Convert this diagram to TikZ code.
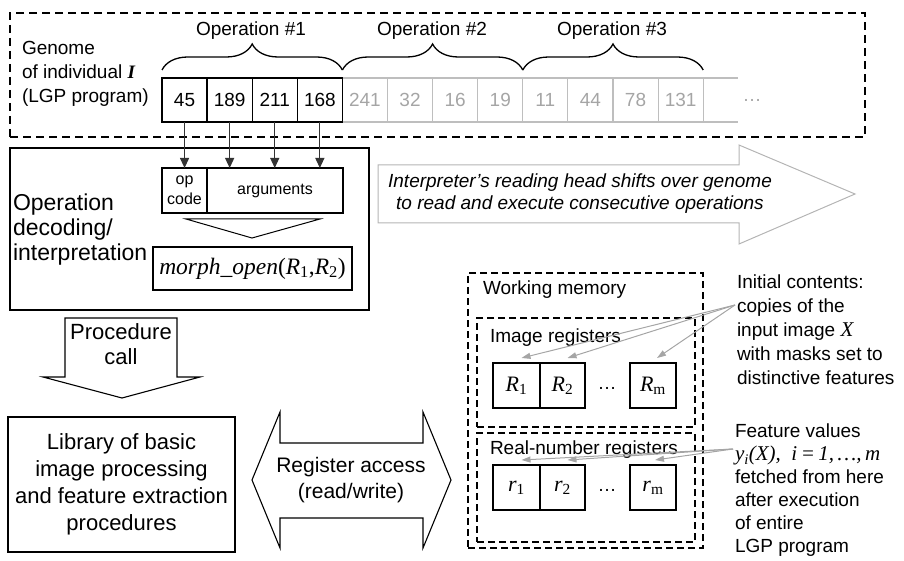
\documentclass[tikz,border=0pt]{standalone}
\usepackage{fontspec}
\setmainfont{Liberation Sans}
\newfontfamily\seriffont{Liberation Serif}
\usetikzlibrary{decorations.pathreplacing,arrows.meta}
\definecolor{cellgray}{RGB}{190,190,190}
\definecolor{textgray}{RGB}{165,165,165}
\definecolor{arrgray}{RGB}{180,180,180}
\definecolor{ptrgray}{RGB}{165,165,165}
\begin{document}
\begin{tikzpicture}[x=1pt,y=-1pt,
  font=\fontsize{19}{24}\selectfont,
  every node/.style={inner sep=0pt, outer sep=0pt},
  blk/.style={draw, line width=1.3pt},
  cellb/.style={draw, line width=1.3pt, minimum width=45.1pt, minimum height=44pt, anchor=north west},
  cellg/.style={draw=cellgray, line width=1.1pt, text=textgray, minimum width=45.1pt, minimum height=44pt, anchor=north west},
  dashbox/.style={draw, line width=1.3pt, dash pattern=on 8pt off 5pt},
  dashbox2/.style={draw, line width=1.3pt, dash pattern=on 7pt off 4pt},
  feed/.style={draw=black!80, line width=1.2pt, -{Triangle[length=10pt,width=9pt]}},
  gptr/.style={draw=ptrgray, line width=1pt, -{Triangle[length=9pt,width=6pt]}},
  bigarrow/.style={draw=arrgray, line width=1pt},
  openarrow/.style={draw, line width=1.1pt, line join=miter},
  brc/.style={draw, line width=1.3pt, decorate, decoration={brace, amplitude=26pt}},
  serifbig/.style={font=\seriffont\fontsize{22}{24}\selectfont},
  ]
\useasboundingbox (0,0) rectangle (904,561);

% ---------- genome ----------
\node[dashbox, anchor=north west, minimum width=855pt, minimum height=124pt] (genome) at (10,13) {};
\node[anchor=west, align=left] (gtxt) at (22,74) {Genome\\of individual {\seriffont\bfseries\itshape I}\\(LGP program)};

\foreach \v [count=\i from 4] in {241,32,16,19,11,44,78,131}
  \node[cellg] (c\i) at ({162+45.1*\i},78) {\v};
\foreach \v [count=\i from 0] in {45,189,211,168}
  \node[cellb] (c\i) at ({162+45.1*\i},78) {\v};
\coordinate (ext1) at ([xshift=35pt]c11.north east);
\coordinate (ext2) at ([xshift=35pt]c11.south east);
\draw[cellgray, line width=1.1pt] (c11.north east) -- (ext1);
\draw[cellgray, line width=1.1pt] (c11.south east) -- (ext2);
\node[text=textgray] (dots) at (752,100) {…};

\draw[brc] ([yshift=8pt]c0.north west) -- ([yshift=8pt]c3.north east);
\draw[brc] ([yshift=8pt]c4.north west) -- ([yshift=8pt]c7.north east);
\draw[brc] ([yshift=8pt]c8.north west) -- ([yshift=8pt]c11.north east);
\node (op1) at (251,31) {Operation \#1};
\node (op2) at (432,31) {Operation \#2};
\node (op3) at (612,31) {Operation \#3};

% ---------- decoding ----------
\node[blk, anchor=north west, minimum width=359pt, minimum height=162pt] (dec) at (10,148) {};
\node[anchor=west, align=left, font=\fontsize{23}{25}\selectfont] (dectxt) at (13,230) {Operation\\decoding/\\interpretation};
\node[blk, anchor=north west, minimum width=45pt, minimum height=45pt, align=center, font=\fontsize{16}{20}\selectfont] (opc) at (162,168) {op\\code};
\node[blk, anchor=north west, minimum width=136pt, minimum height=45pt, font=\fontsize{16}{20}\selectfont] (args) at (207,168) {arguments};
\draw[feed] (c0.south) -- (c0.south |- opc.north);
\draw[feed] (c1.south) -- (c1.south |- args.north);
\draw[feed] (c2.south) -- (c2.south |- args.north);
\draw[feed] (c3.south) -- (c3.south |- args.north);
\draw[line width=1pt] (186,219) -- (320,219) -- (252,238) -- cycle;
\node[blk, anchor=north west, minimum width=199pt, minimum height=43pt, font=\seriffont\fontsize{23.5}{26}\selectfont] (morph) at (153,247) {\textit{morph\_open}(\textit{R}\textsubscript{1},\textit{R}\textsubscript{2})};

% ---------- interpreter arrow ----------
\draw[bigarrow] (378,165) -- (739,165) -- (739,145) -- (855,194) -- (739,244) -- (739,223) -- (378,223) -- cycle;
\node[align=center, font=\fontsize{19}{22}\selectfont\itshape] (interp) at (580,194) {Interpreter’s reading head shifts over genome\\to read and execute consecutive operations};

% ---------- procedure call ----------
\draw[openarrow] (65,318) -- (177,318) -- (177,377) -- (200,377) -- (122,398) -- (43,377) -- (65,377) -- cycle;
\node[align=center, font=\fontsize{22}{25}\selectfont] (proc) at (121,344) {Procedure\\call};

\node[blk, anchor=north west, minimum width=227pt, minimum height=135pt, align=center, font=\fontsize{22}{27}\selectfont] (lib) at (8,417) {Library of basic\\image processing\\and feature extraction\\procedures};

% ---------- register access ----------
\draw[openarrow] (252,480) -- (280,412) -- (280,443) -- (423,443) -- (423,412) -- (451,480) -- (423,548) -- (423,518) -- (280,518) -- (280,548) -- cycle;
\node[align=center, font=\fontsize{21}{26}\selectfont] (reg) at (351,480) {Register access\\(read/write)};

% ---------- working memory ----------
\node[dashbox2, anchor=north west, minimum width=235pt, minimum height=275pt] (wm) at (468,273) {};
\node[anchor=west] (wmt) at (483,290) {Working memory};
\node[dashbox2, anchor=north west, minimum width=218pt, minimum height=109pt] (ir) at (477,318) {};
\node[anchor=west] (irt) at (490,338) {Image registers};
\node[dashbox2, anchor=north west, minimum width=218pt, minimum height=109pt] (rr) at (477,433) {};
\node[anchor=west] (rrt) at (490,450) {Real-number registers};

\node[blk, anchor=north west, minimum width=47pt, minimum height=45pt, serifbig] (R1) at (493,363) {\textit{R}\textsubscript{1}};
\node[blk, anchor=north west, minimum width=45pt, minimum height=45pt, serifbig] (R2) at (540,363) {\textit{R}\textsubscript{2}};
\node (Rd) at (607,388) {…};
\node[blk, anchor=north west, minimum width=46pt, minimum height=45pt, serifbig] (Rm) at (630,363) {\textit{R}\textsubscript{m}};

\node[blk, anchor=north west, minimum width=47pt, minimum height=45pt, serifbig] (r1) at (493,465) {\textit{r}\textsubscript{1}};
\node[blk, anchor=north west, minimum width=45pt, minimum height=45pt, serifbig] (r2) at (540,465) {\textit{r}\textsubscript{2}};
\node (rd) at (607,490) {…};
\node[blk, anchor=north west, minimum width=46pt, minimum height=45pt, serifbig] (rm) at (630,465) {\textit{r}\textsubscript{m}};

% ---------- notes ----------
\node[anchor=west, align=left, font=\fontsize{19}{24}\selectfont] (init) at (737,330) {Initial contents:\\copies of the\\input image {\seriffont\fontsize{21}{24}\selectfont\itshape X}\\with masks set to\\distinctive features};
\node[anchor=west, align=left, font=\fontsize{19}{23}\selectfont] (feat) at (735,490.5) {Feature values\\{\seriffont\fontsize{21}{23}\selectfont\itshape y\textsubscript{i}(X),\ \ i\,=\,1,\,…,\,m}\\fetched from here\\after execution\\of entire\\LGP program};

\coordinate (ia) at (735,305);
\coordinate (fa) at (733,449);
\draw[gptr] (ia) -- ([xshift=5pt,yshift=5pt]R1.north);
\draw[gptr] (ia) -- ([xshift=5pt,yshift=5pt]R2.north);
\draw[gptr] (ia) -- ([xshift=4pt,yshift=5pt]Rm.north);
\draw[gptr] (fa) -- ([xshift=5pt,yshift=5pt]r1.north);
\draw[gptr] (fa) -- ([xshift=5pt,yshift=5pt]r2.north);
\draw[gptr] (fa) -- ([xshift=2pt,yshift=5pt]rm.north);
\end{tikzpicture}
\end{document}
